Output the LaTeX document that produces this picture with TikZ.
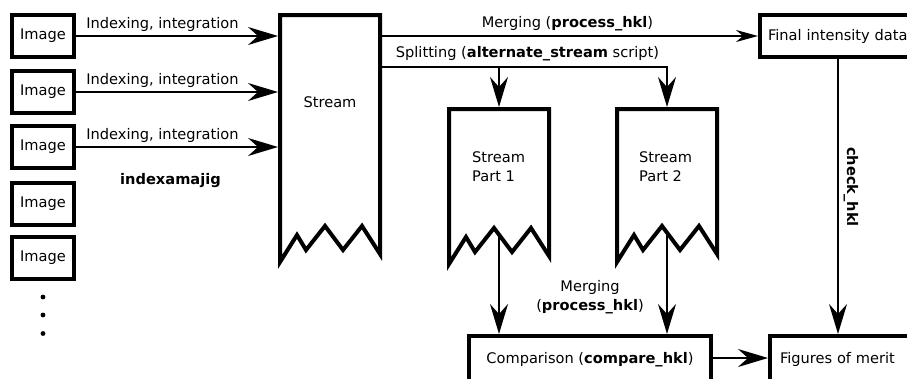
\documentclass[tikz,border=0pt]{standalone}
\usepackage{fontspec}
\setmainfont{DejaVu Sans}
\usetikzlibrary{arrows.meta}
\newcommand\zigshape[3]{%
  \draw[boxline] (#1+100,#2) -- (#1,#2) -- (#1,#3) -- ++(17,-27) -- ++(9,15) -- ++(19,-24) -- ++(18,24) -- ++(19,-24) -- ++(18,28) -- cycle;}
\begin{document}
\begin{tikzpicture}[x=1pt,y=-1pt,
  font=\fontsize{14.6}{19}\selectfont,
  boxline/.style={line width=4pt, line join=miter},
  imgbox/.style={draw, line width=4pt, minimum width=62pt, minimum height=42pt, inner sep=0pt},
  ghost/.style={inner sep=0pt, outer sep=2pt},
  lbl/.style={inner sep=0pt},
  conn/.style={line width=1.8pt},
  bigarrow/.style={conn, -{Stealth[length=30pt,width=18pt,inset=10pt]}},
  smallarrow/.style={conn, -{Stealth[length=22pt,width=12pt,inset=7pt]}},
]
\useasboundingbox (0,0) rectangle (907,378);

% image boxes
\node[imgbox] (img1) at (43,36) {Image};
\node[imgbox] (img2) at (43,92) {Image};
\node[imgbox] (img3) at (43,147) {Image};
\node[imgbox] (img4) at (43,203.5) {Image};
\node[imgbox] (img5) at (43,257.5) {Image};
\fill (43,297) circle[radius=2.4pt];
\fill (43,315) circle[radius=2.4pt];
\fill (43,333.5) circle[radius=2.4pt];

% stream shapes
\node[ghost, anchor=north west, minimum width=100pt, minimum height=247pt] (stream) at (278,13) {};
\zigshape{280}{15}{262}
\node[lbl] (streamt) at (330,102) {Stream};

\node[ghost, anchor=north, minimum width=100pt, minimum height=120pt] (p1) at (499,107) {};
\zigshape{449}{109}{264}
\node[lbl, anchor=west, align=left] (p1t) at (472,166.5) {Stream\\Part 1};

\node[ghost, anchor=north, minimum width=100pt, minimum height=120pt] (p2) at (667,107) {};
\zigshape{617}{109}{262}
\node[lbl, anchor=west, align=left] (p2t) at (639,166.5) {Stream\\Part 2};

% right-hand boxes
\node[draw, line width=4pt, anchor=west, inner xsep=8pt, inner ysep=0pt, text width=150pt, align=left, minimum height=42pt] (final) at (758,36) {Final intensity data};
\node[draw, line width=4pt, anchor=base west, inner xsep=10pt, inner ysep=0pt, text width=150pt, align=left, text height=27pt, text depth=26pt] (fig) at (768,363) {Figures of merit};
\node[draw, line width=4pt, anchor=base, inner xsep=0pt, inner ysep=0pt, minimum width=242pt, text height=27pt, text depth=26pt] (comp) at (590,363) {Comparison (\textbf{compare\_hkl})};

% coordinates
\coordinate (sy) at (0,67);
\coordinate (cx) at (838,0);
\coordinate (p1b) at (499,235);
\coordinate (p2b) at (667,233);

% connectors
\draw[bigarrow] (img1.east) -- (img1.east -| stream.west);
\draw[bigarrow] (img2.east) -- (img2.east -| stream.west);
\draw[bigarrow] (img3.east) -- (img3.east -| stream.west);
\node[lbl] (l1) at (162.5,24) {Indexing, integration};
\node[lbl] (l2) at (162.5,80) {Indexing, integration};
\node[lbl] (l3) at (162.5,135) {Indexing, integration};
\node[lbl] (idx) at (170.5,181) {\textbf{indexamajig}};

\draw[smallarrow] (stream.east |- final.west) -- (final.west);
\node[lbl] (mergelbl) at (567.5,23.5) {Merging (\textbf{process\_hkl})};

\draw[bigarrow, line join=miter] (stream.east |- sy) -- (p2.north |- sy) -- (p2.north);
\draw[bigarrow] (p1.north |- sy) -- (p1.north);
\node[lbl] (splitlbl) at (527.5,53.5) {Splitting (\textbf{alternate\_stream} script)};

\draw[bigarrow] (p1b) -- (p1b |- comp.north);
\draw[bigarrow] (p2b) -- (p2b |- comp.north);
\node[lbl, align=center] (merge2) at (590,297) {Merging\\(\textbf{process\_hkl})};

\draw[bigarrow] (final.south -| cx) -- (fig.north -| cx);
\node[lbl, rotate=-90] (chk) at (851,187) {\textbf{check\_hkl}};

\draw[bigarrow] (comp.east |- 0,358) -- (fig.west |- 0,358);
\end{tikzpicture}
\end{document}
